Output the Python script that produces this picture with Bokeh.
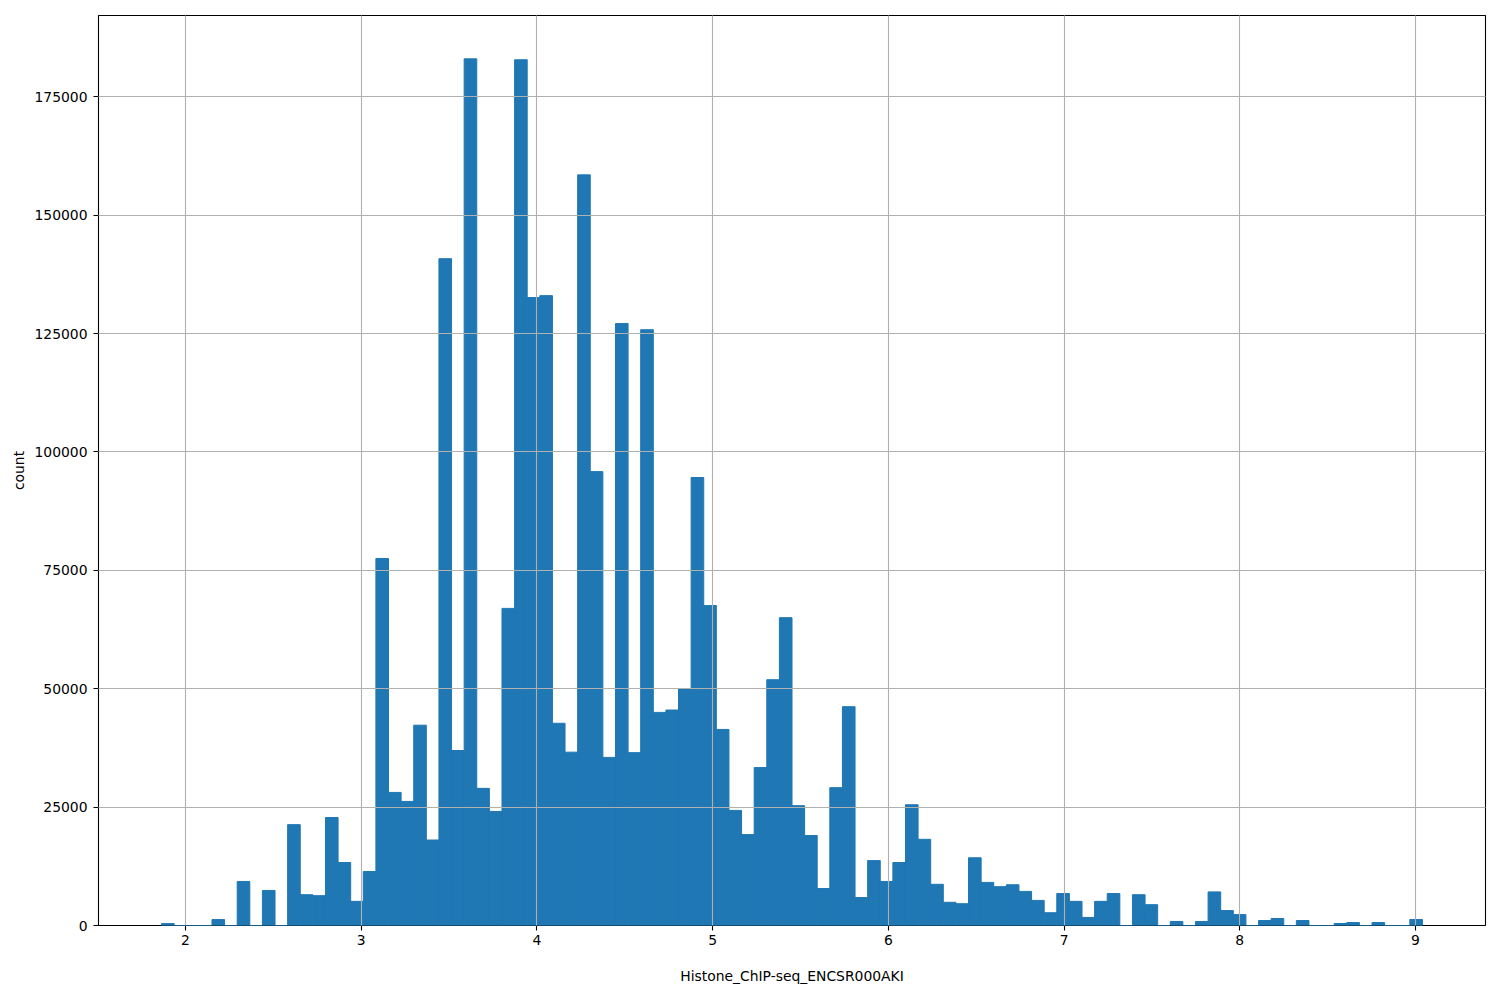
import numpy as np
from bokeh.plotting import figure
from bokeh.models import Range1d, FixedTicker, BasicTickFormatter, ColumnDataSource
from bokeh.embed import file_html
from bokeh.resources import INLINE

# ---- data ----
x_label = "Histone_ChIP-seq_ENCSR000AKI"
y_label = "count"
data_min = 1.8637
data_max = 9.0397
n_bins = 100
counts = [
    400, 0, 0, 0, 1250, 0, 9300, 0, 7400, 0,
    21300, 6500, 6300, 22800, 13300, 5100, 11400, 77500, 28100, 26200,
    42300, 18050, 140800, 36950, 183000, 28960, 24090, 66960, 182800, 132600,
    133000, 42700, 36600, 158500, 95840, 35500, 127100, 36500, 125800, 45000,
    45500, 50000, 94600, 67550, 41400, 24300, 19200, 33350, 51900, 65000,
    25300, 19000, 7800, 29100, 46200, 5900, 13700, 9300, 13300, 25500,
    18200, 8700, 4900, 4600, 14300, 9100, 8200, 8600, 7200, 5300,
    2700, 6750, 5100, 1700, 5100, 6750, 0, 6500, 4400, 0,
    850, 0, 850, 7100, 3150, 2300, 0, 1050, 1480, 0,
    1050, 0, 0, 420, 630, 0, 630, 0, 0, 1270,
]
x_ticks = [2, 3, 4, 5, 6, 7, 8, 9]
y_ticks = [0, 25000, 50000, 75000, 100000, 125000, 150000, 175000]

edges = np.linspace(data_min, data_max, n_bins + 1)
src = ColumnDataSource(dict(left=edges[:-1], right=edges[1:], top=counts,
                            bottom=[0] * n_bins))

span = data_max - data_min
p = figure(width=1500, height=1000, output_backend="svg", toolbar_location=None,
           x_range=Range1d(data_min - 0.05 * span, data_max + 0.05 * span),
           y_range=Range1d(0, 1.05 * max(counts)),
           min_border_left=98, min_border_right=15, min_border_top=15,
           min_border_bottom=75)
p.background_fill_color = "white"
p.border_fill_color = "white"
p.outline_line_color = "black"
p.outline_line_width = 1.1

p.quad(left="left", right="right", top="top", bottom="bottom", source=src,
       fill_color="#1f77b4", line_color="#1f77b4", line_width=1.0)

p.xaxis.ticker = FixedTicker(ticks=x_ticks)
p.yaxis.ticker = FixedTicker(ticks=y_ticks)
p.yaxis.formatter = BasicTickFormatter(use_scientific=False)
p.xaxis.axis_label = x_label
p.yaxis.axis_label = y_label

for ax in (p.xaxis, p.yaxis):
    ax.major_label_text_font = "DejaVu Sans"
    ax.major_label_text_font_size = "13.9px"
    ax.major_label_text_color = "black"
    ax.axis_label_text_font = "DejaVu Sans"
    ax.axis_label_text_font_size = "13.9px"
    ax.axis_label_text_font_style = "normal"
    ax.axis_label_text_color = "black"
    ax.major_tick_out = 5
    ax.major_tick_in = 0
    ax.minor_tick_out = 0
    ax.minor_tick_in = 0
    ax.major_tick_line_color = "black"
    ax.major_tick_line_width = 1.1
    ax.axis_line_color = None
p.xaxis.major_label_standoff = 4
p.yaxis.major_label_standoff = 6
p.xaxis.axis_label_standoff = 20
p.yaxis.axis_label_standoff = 4

p.grid.grid_line_color = "#b0b0b0"
p.grid.grid_line_width = 1.1
p.grid.level = "overlay"
p.xgrid.ticker = FixedTicker(ticks=x_ticks)
p.ygrid.ticker = FixedTicker(ticks=y_ticks)

open("out.html", "w").write(file_html(p, INLINE))
